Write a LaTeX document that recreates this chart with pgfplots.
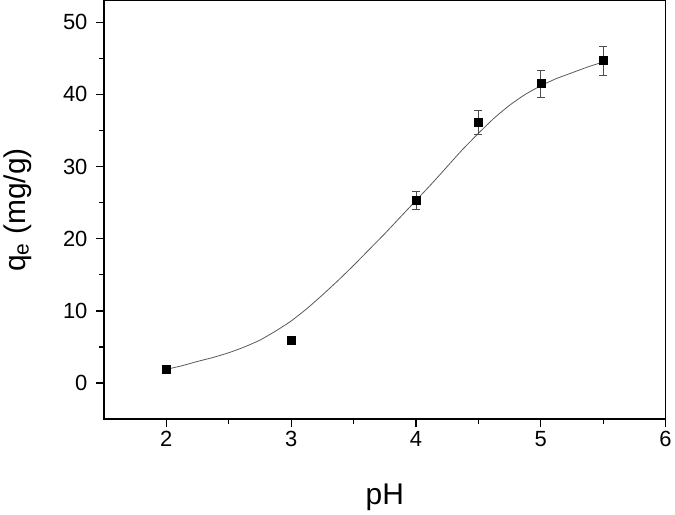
\documentclass[border=0pt]{standalone}
\usepackage{fontspec}
\setmainfont{Liberation Sans}
\usepackage{pgfplots}
\pgfplotsset{compat=1.18}
\begin{document}
\begin{tikzpicture}
\begin{axis}[
  scale only axis,
  width=563pt, height=419.5pt,
  xmin=1.5, xmax=6, ymin=-5, ymax=53,
  xtick={2,3,4,5,6}, ytick={0,10,20,30,40,50},
  minor x tick num=1, minor y tick num=1,
  xtick pos=left, ytick pos=left,
  tick align=outside,
  major tick length=8pt, minor tick length=4.5pt,
  every tick/.style={black, line width=1.2pt},
  axis line style={line width=1.3pt},
  /pgf/number format/assume math mode=true,
  ticklabel style={font=\fontsize{22}{26}\selectfont},
  xticklabel shift=1pt, yticklabel shift=5pt,
  label style={font=\fontsize{30}{34}\selectfont},
  xlabel={pH}, ylabel={q\textsubscript{e} (mg/g)},
  xlabel style={yshift=-30pt},
  ylabel style={yshift=25pt},
  clip=false,
]
\addplot[gray!70!black, line width=0.8pt, smooth, tension=0.3] coordinates {
(2.0,1.9) (2.125,2.4) (2.25,3.0) (2.375,3.55) (2.5,4.2) (2.625,5.0) (2.75,5.95)
(2.875,7.2) (3.0,8.6) (3.125,10.3) (3.25,12.2) (3.375,14.2) (3.5,16.3)
(3.625,18.5) (3.75,20.7) (3.875,23.0) (4.0,25.3) (4.125,27.6) (4.25,30.0)
(4.375,32.4) (4.5,34.6) (4.625,36.7) (4.75,38.5) (4.875,40.0) (5.0,41.2)
(5.125,42.2) (5.25,43.0) (5.375,43.8) (5.5,44.5)
};
\addplot[only marks, mark=square*, mark size=4pt, black,
  error bars/.cd, y dir=both, y explicit,
  error bar style={line width=0.8pt, gray!60!black},
  error mark options={rotate=90, mark size=4pt, line width=0.8pt, gray!60!black}]
coordinates {
(2,1.86) +- (0,0)
(3,5.9) +- (0,0)
(4,25.3) +- (0,1.2)
(4.5,36.1) +- (0,1.65)
(5,41.5) +- (0,1.85)
(5.5,44.7) +- (0,2.0)
};
\end{axis}
\end{tikzpicture}
\end{document}
